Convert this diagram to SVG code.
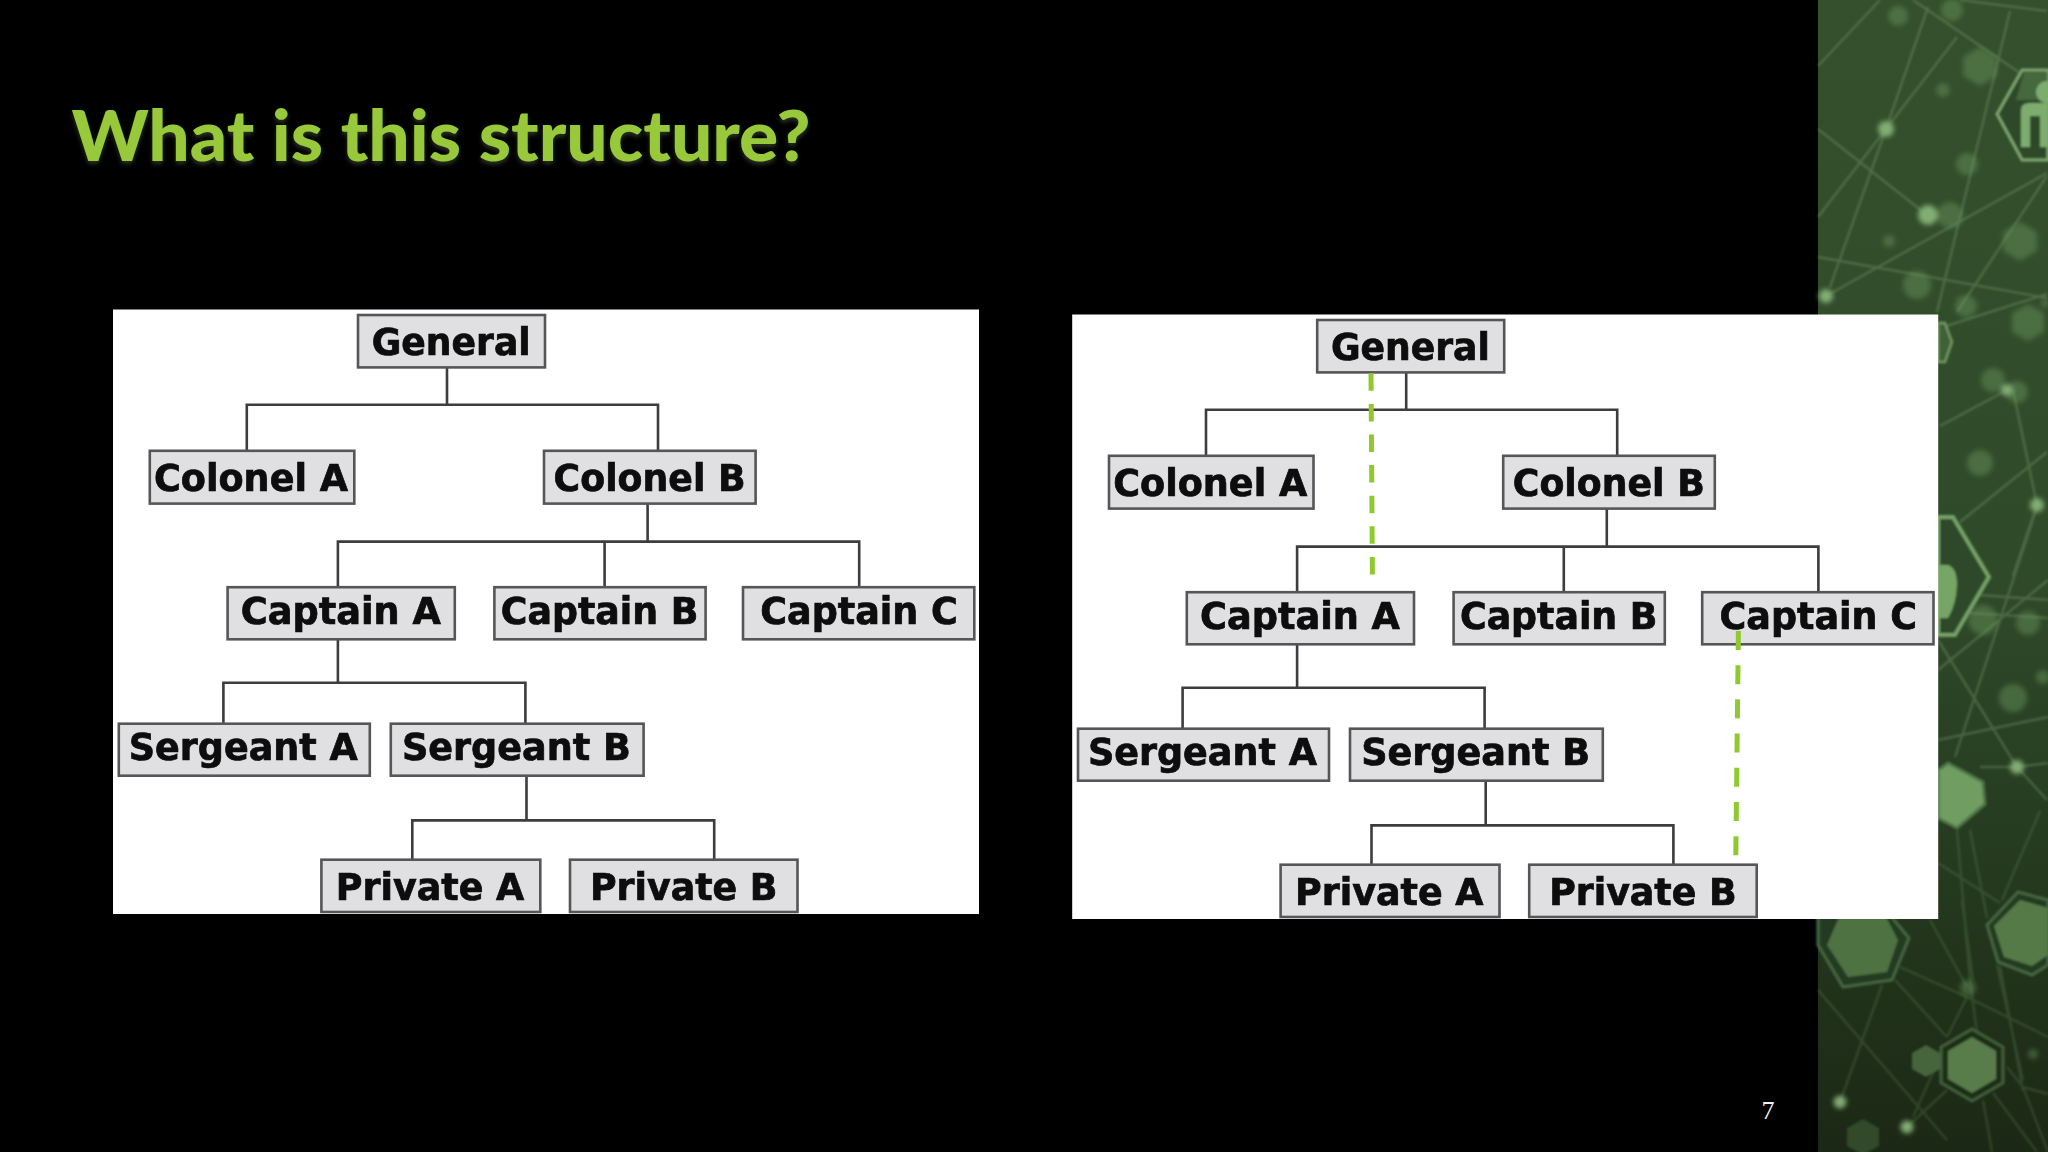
<svg xmlns="http://www.w3.org/2000/svg" width="2048" height="1152" viewBox="0 0 2048 1152">
<style>
.box{fill:#e0e0e3;stroke:#565658;stroke-width:2.6}
.lbl{font-family:"DejaVu Sans",sans-serif;font-weight:700;font-size:36.5px;fill:#0a0a0a;stroke:#0a0a0a;stroke-width:.7}
.tree{fill:none;stroke:#3c3c3e;stroke-width:2.6}
.nw{fill:none;stroke:#86ae78;stroke-width:2.4;stroke-opacity:.32}
.nw2{fill:none;stroke:#7ba36e;stroke-width:2.4;stroke-opacity:.22}
.dim{fill:#6b9660;fill-opacity:.45}
.bright{fill:#82ad73}
.dash{fill:none;stroke:#8fc92f;stroke-width:5}
</style>
<defs>
<linearGradient id="bg" x1="0" y1="0" x2="0" y2="1">
<stop offset="0" stop-color="#34502c"/>
<stop offset=".5" stop-color="#2f4a29"/>
<stop offset=".78" stop-color="#24381e"/>
<stop offset="1" stop-color="#1b2815"/>
</linearGradient>
<filter id="soft" x="-5%" y="-5%" width="110%" height="110%"><feGaussianBlur stdDeviation="1.1"/></filter>
<filter id="blob" x="-30%" y="-30%" width="160%" height="160%"><feGaussianBlur stdDeviation="2.4"/></filter>
<filter id="crisp" x="-1%" y="-1%" width="102%" height="102%"><feGaussianBlur stdDeviation="0.5"/></filter>
<filter id="hexb" x="-5%" y="-5%" width="110%" height="110%"><feGaussianBlur stdDeviation="1"/></filter>
<filter id="ts" x="-5%" y="-20%" width="110%" height="150%"><feDropShadow dx="0" dy="3" stdDeviation="2" flood-color="#6b7a50" flood-opacity=".4"/></filter>
</defs>
<rect width="2048" height="1152" fill="#000"/>
<rect x="1818" y="0" width="230" height="1152" fill="url(#bg)"/>
<g id="backdrop">
<g filter="url(#soft)">
<path class="nw" d="M1818 129L1927 215M1818 217L1886 129M1830 287L1886 129M1886 129L1928 7M1886 129L1957 37M1818 257L2047 298M1826 296L2047 173M1937 312L2010 11M1913 0L2020 73M1818 66L1880 0M1957 312L2047 176M1960 0L2047 11M2013 390L2037 505M1940 426L2007 390M1960 522L2047 452M1943 327L2047 294M2037 505L2013 576M2037 507L1955 757M1938 640L2017 767M1938 740L2048 717M1980 595L2048 600M1970 613L2048 618M1938 670L2048 580M2017 767L2047 800M1980 767L2017 767L2048 763"/>
<path class="nw2" d="M1957 830L1970 980M1970 830L1987 918M1938 863L2000 903M2040 811L2002 900M2000 966L2023 1091M1882 985L1840 1102M1895 980L1947 1037M1900 967L1967 997L2048 1037M1930 920L1967 987M1962 900L1973 980M1970 980L1977 1033M1997 965L2023 1080M1818 990L1947 1140M1907 1127L1947 1090M1913 1117L1940 1057M1967 997L1947 1037M1993 1093L2037 1152M2023 1087L2048 1152M2023 1087L2048 1094M2007 1067L2023 1087M1983 1100L1992 1152"/>
</g>
<g filter="url(#blob)">
<circle class="dim" cx="1898" cy="16" r="10"/><circle class="dim" cx="1952" cy="10" r="11"/>
<polygon class="dim" points="1980,47 1997,57 1997,76 1980,86 1963,76 1963,57"/>
<circle class="dim" cx="1943" cy="90" r="7"/><circle class="dim" cx="1967" cy="164" r="11"/>
<circle class="dim" cx="1950" cy="215" r="13"/><circle class="dim" cx="1889" cy="241" r="6"/>
<polygon class="dim" points="2020,222 2037,232 2037,251 2020,261 2003,251 2003,232"/>
<circle class="dim" cx="1917" cy="285" r="14"/><circle class="dim" cx="1966" cy="306" r="11"/>
<polygon class="dim" points="2028,304 2044,313 2044,332 2028,341 2012,332 2012,313"/>
<circle class="dim" cx="1993" cy="380" r="12"/><circle class="dim" cx="2017" cy="392" r="11"/>
<circle class="dim" cx="1980" cy="463" r="13"/>
<circle class="dim" cx="1983" cy="620" r="15" fill-opacity=".3"/><circle class="dim" cx="2028" cy="623" r="12" fill-opacity=".25"/>
<circle class="dim" cx="2013" cy="698" r="14" fill-opacity=".25"/><circle class="dim" cx="2043" cy="677" r="7" fill-opacity=".25"/>
<circle class="dim" cx="2033" cy="1054" r="5" fill-opacity=".3"/><circle class="dim" cx="1968" cy="988" r="8" fill-opacity=".2"/>
<circle class="bright" cx="1886" cy="129" r="8"/><circle class="bright" cx="1928" cy="215" r="10"/>
<circle class="bright" cx="1826" cy="296" r="7"/><circle class="bright" cx="2007" cy="390" r="6"/>
<circle class="bright" cx="2037" cy="505" r="7"/><circle class="bright" cx="2017" cy="767" r="7"/>
<circle class="bright" cx="1840" cy="1102" r="6.5"/><circle class="bright" cx="1907" cy="1127" r="6.5"/>
<circle class="dim" cx="2045" cy="303" r="4"/>
</g>
<g filter="url(#hexb)">
<polygon points="2022,70 2048,70 2048,160 2022,160 1997,114" fill="#2f4a29" stroke="#7ea670" stroke-width="3"/>
<polygon points="2024,72 2048,72 2048,100 2016,100" fill="#4d7444" fill-opacity=".7"/>
<circle cx="2047" cy="92" r="11" fill="#7dac6e"/>
<path d="M2021 147V110Q2021 103 2030 103H2048V147H2040V116H2030V147Z" fill="#7dac6e"/>
<polygon points="1938,323 1945,323 1952,342 1945,362 1938,362" fill="#3f6136" stroke="#6f9a62" stroke-width="2.5"/>
<polygon points="1938,517 1953,517 1989,577 1955,635 1938,635" fill="#2f4a29" stroke="#76a268" stroke-width="4"/>
<path d="M1938 565H1948Q1957 568 1957 585Q1956 605 1948 618H1938Z" fill="#76a566"/>
<polygon points="1948,763 1983,782 1985,804 1957,828 1938,818 1938,770" fill="#6f9e62" stroke="#4f7546" stroke-width="3"/>
<polygon points="1818,945 1843,987 1892,980 1909,938 1890,915 1818,915" fill="#243a20" stroke="#466640" stroke-width="3"/>
<polygon points="1827,945 1848,977 1887,972 1898,940 1885,915 1840,915" fill="#4f7243"/>
<polygon points="2018,892 1987,925 1998,962 2032,975 2048,965 2048,900" fill="#243a20" stroke="#466640" stroke-width="3"/>
<polygon points="2020,900 1994,926 2004,957 2032,966 2048,955 2048,908" fill="#567a47"/>
<polygon points="1972,1029 2003,1047 2003,1083 1972,1101 1941,1083 1941,1047" fill="#1b2f19" stroke="#42603b" stroke-width="3"/>
<polygon points="1972,1037 1996,1051 1996,1079 1972,1093 1948,1079 1948,1051" fill="#587d4c"/>
<polygon points="1926,1045 1940,1053 1940,1069 1926,1077 1912,1069 1912,1053" fill="#46653e"/>
<polygon points="1863,1119 1879,1128 1879,1146 1863,1155 1847,1146 1847,1128" fill="#30492a"/>
</g>
</g>
<text id="title" x="71.5" y="161" textLength="739" lengthAdjust="spacingAndGlyphs" filter="url(#ts)" style="font-family:Lato,'Open Sans',sans-serif;font-weight:900;font-size:71px;fill:#97c93a">What is this structure?</text>
<g id="diagram-left" filter="url(#crisp)">
<rect x="113" y="309.5" width="866" height="604.5" fill="#fff"/>
<g id="connectors-left" class="tree">
<path d="M447 367V404.8M246.8 450.6V404.8H658V450.6"/>
<path d="M647.6 503.6V541.6M337.9 587V541.6H859.2V587M604.6 541.6V587"/>
<path d="M337.9 639.3V682.8M223.4 723.5V682.8H525.4V723.5"/>
<path d="M526.5 775.7V820.4M412.3 859.5V820.4H714.2V859.5"/>
</g>
<g id="l-general"><rect class="box" x="358" y="315" width="187" height="52.4"/><text class="lbl" x="371.7" y="354.6" textLength="159" lengthAdjust="spacingAndGlyphs">General</text></g>
<g id="l-colonel-a"><rect class="box" x="149.8" y="450.8" width="204.5" height="52.8"/><text class="lbl" x="154" y="491.2" textLength="194" lengthAdjust="spacingAndGlyphs">Colonel A</text></g>
<g id="l-colonel-b"><rect class="box" x="544" y="450.8" width="211.6" height="52.8"/><text class="lbl" x="553.6" y="491.2" textLength="192" lengthAdjust="spacingAndGlyphs">Colonel B</text></g>
<g id="l-captain-a"><rect class="box" x="227.6" y="587.2" width="227.2" height="52.1"/><text class="lbl" x="240.8" y="623.5" textLength="200" lengthAdjust="spacingAndGlyphs">Captain A</text></g>
<g id="l-captain-b"><rect class="box" x="494.4" y="587.2" width="211.2" height="52.1"/><text class="lbl" x="500.8" y="623.5" textLength="197.5" lengthAdjust="spacingAndGlyphs">Captain B</text></g>
<g id="l-captain-c"><rect class="box" x="743" y="587.2" width="231.3" height="52.1"/><text class="lbl" x="760.3" y="623.5" textLength="197.5" lengthAdjust="spacingAndGlyphs">Captain C</text></g>
<g id="l-sergeant-a"><rect class="box" x="118.8" y="723.7" width="251" height="52"/><text class="lbl" x="128.7" y="759.9" textLength="229" lengthAdjust="spacingAndGlyphs">Sergeant A</text></g>
<g id="l-sergeant-b"><rect class="box" x="390.8" y="723.7" width="252.8" height="52"/><text class="lbl" x="402" y="759.9" textLength="228.8" lengthAdjust="spacingAndGlyphs">Sergeant B</text></g>
<g id="l-private-a"><rect class="box" x="321.4" y="859.7" width="218.9" height="52.3"/><text class="lbl" x="335.8" y="899.5" textLength="188.5" lengthAdjust="spacingAndGlyphs">Private A</text></g>
<g id="l-private-b"><rect class="box" x="570" y="859.7" width="227.5" height="52.3"/><text class="lbl" x="590" y="899.5" textLength="187.5" lengthAdjust="spacingAndGlyphs">Private B</text></g>
</g>
<g id="diagram-right" filter="url(#crisp)" transform="translate(959.2 5)">
<rect x="113" y="309.5" width="866" height="604.5" fill="#fff"/>
<g id="connectors-right" class="tree">
<path d="M447 367V404.8M246.8 450.6V404.8H658V450.6"/>
<path d="M647.6 503.6V541.6M337.9 587V541.6H859.2V587M604.6 541.6V587"/>
<path d="M337.9 639.3V682.8M223.4 723.5V682.8H525.4V723.5"/>
<path d="M526.5 775.7V820.4M412.3 859.5V820.4H714.2V859.5"/>
</g>
<g id="r-general"><rect class="box" x="358" y="315" width="187" height="52.4"/><text class="lbl" x="371.7" y="354.6" textLength="159" lengthAdjust="spacingAndGlyphs">General</text></g>
<g id="r-colonel-a"><rect class="box" x="149.8" y="450.8" width="204.5" height="52.8"/><text class="lbl" x="154" y="491.2" textLength="194" lengthAdjust="spacingAndGlyphs">Colonel A</text></g>
<g id="r-colonel-b"><rect class="box" x="544" y="450.8" width="211.6" height="52.8"/><text class="lbl" x="553.6" y="491.2" textLength="192" lengthAdjust="spacingAndGlyphs">Colonel B</text></g>
<g id="r-captain-a"><rect class="box" x="227.6" y="587.2" width="227.2" height="52.1"/><text class="lbl" x="240.8" y="623.5" textLength="200" lengthAdjust="spacingAndGlyphs">Captain A</text></g>
<g id="r-captain-b"><rect class="box" x="494.4" y="587.2" width="211.2" height="52.1"/><text class="lbl" x="500.8" y="623.5" textLength="197.5" lengthAdjust="spacingAndGlyphs">Captain B</text></g>
<g id="r-captain-c"><rect class="box" x="743" y="587.2" width="231.3" height="52.1"/><text class="lbl" x="760.3" y="623.5" textLength="197.5" lengthAdjust="spacingAndGlyphs">Captain C</text></g>
<g id="r-sergeant-a"><rect class="box" x="118.8" y="723.7" width="251" height="52"/><text class="lbl" x="128.7" y="759.9" textLength="229" lengthAdjust="spacingAndGlyphs">Sergeant A</text></g>
<g id="r-sergeant-b"><rect class="box" x="390.8" y="723.7" width="252.8" height="52"/><text class="lbl" x="402" y="759.9" textLength="228.8" lengthAdjust="spacingAndGlyphs">Sergeant B</text></g>
<g id="r-private-a"><rect class="box" x="321.4" y="859.7" width="218.9" height="52.3"/><text class="lbl" x="335.8" y="899.5" textLength="188.5" lengthAdjust="spacingAndGlyphs">Private A</text></g>
<g id="r-private-b"><rect class="box" x="570" y="859.7" width="227.5" height="52.3"/><text class="lbl" x="590" y="899.5" textLength="187.5" lengthAdjust="spacingAndGlyphs">Private B</text></g>
</g>
<g id="dashed-connectors">
<path class="dash" d="M1371 373.3L1372.4 574.5" stroke-dasharray="17.5 13.1"/>
<path class="dash" d="M1738.4 631L1735.8 855.5" stroke-dasharray="19 15.2"/>
</g>
<text id="page-number" x="1768" y="1119" text-anchor="middle" style="font-family:'Liberation Serif',serif;font-size:26px;fill:#f2f2f2">7</text>
</svg>
